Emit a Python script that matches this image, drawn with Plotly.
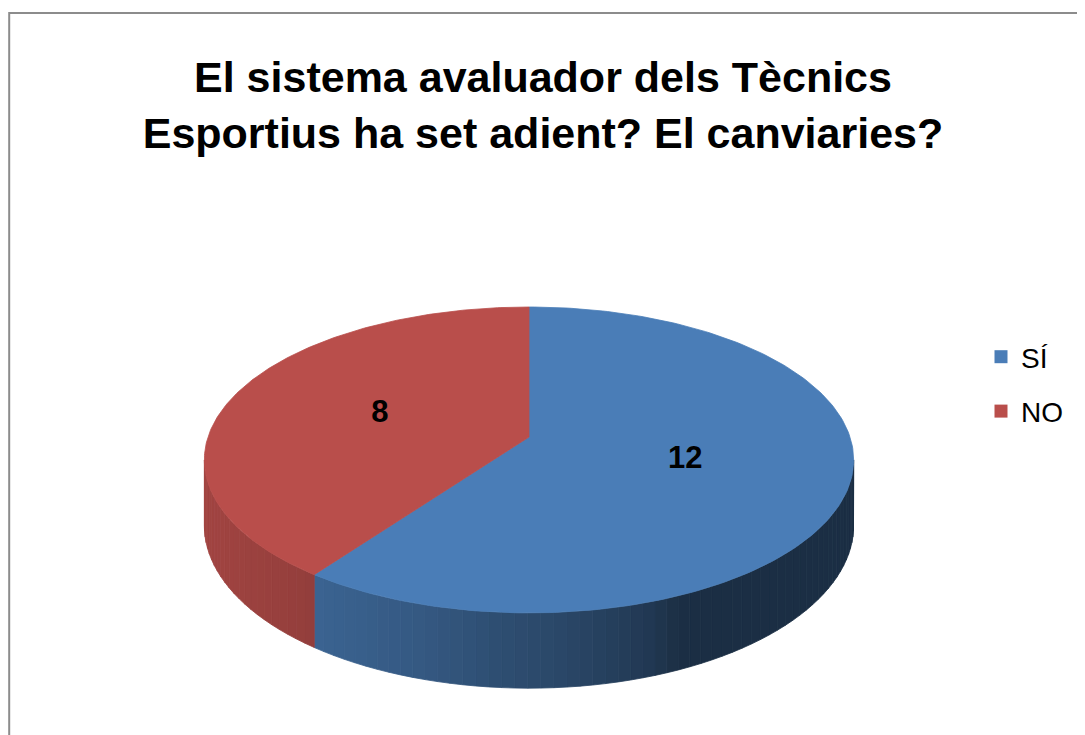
import numpy as np
import plotly.graph_objects as go

# ---- data ----
categories = ["SÍ", "NO"]
values = [12, 8]
top_colors = ["#4A7DB7", "#B94E4B"]
title_lines = ["El sistema avaluador dels Tècnics", "Esportius ha set adient? El canviaries?"]

# ---- geometry / style ----
W, H = 1085, 735
OFF = 8                    # page offset of the plot div (body margin)
CX, CY = 529, 437          # projected pie centre (screen pixels)
RX, RY = 321, 149.5        # radii of the top face
P = 0.15                   # perspective strength
DEPTH = 64                 # thickness of the pie
FONT = "Liberation Sans, Arial, sans-serif"

# side shading (fraction of top colour) as a function of x position
SHADE_X = [205, 320, 420, 500, 560, 650, 680, 900]
SHADE_F = [0.87, 0.79, 0.71, 0.62, 0.57, 0.45, 0.37, 0.37]


def proj(theta_deg, r=1.0, drop=0.0):
    t = np.radians(theta_deg)
    s = 1.0 / (1.0 + P * r * np.cos(t))
    x = CX + RX * r * np.sin(t) * s
    y = CY - RY * r * np.cos(t) * s + drop * s
    return x, y


def hex2rgb(h):
    h = h.lstrip("#")
    return tuple(int(h[i:i + 2], 16) for i in (0, 2, 4))


def shade(hexcol, f):
    r, g, b = hex2rgb(hexcol)
    return "rgb(%d,%d,%d)" % (round(r * f), round(g * f), round(b * f))


total = float(sum(values))
bounds = np.concatenate([[0.0], np.cumsum(values) / total * 360.0])

fig = go.Figure()

# visible range of the side wall (silhouette between widest points)
vis_lo = np.degrees(np.arccos(-P))
vis_hi = 360.0 - vis_lo

# ---- side walls ----
for i, cat in enumerate(categories):
    a0, a1 = bounds[i], bounds[i + 1]
    lo, hi = max(a0, vis_lo), min(a1, vis_hi)
    if hi <= lo:
        continue
    n = max(1, int(np.ceil((hi - lo) / 2.0)))
    edges = np.linspace(lo, hi, n + 1)
    for k in range(n):
        th = np.linspace(edges[k], edges[k + 1], 6)
        xt, yt = proj(th)
        xb, yb = proj(th[::-1], drop=DEPTH)
        xs = np.concatenate([xt, xb, xt[:1]])
        ys = np.concatenate([yt, yb, yt[:1]])
        f = float(np.interp(xt.mean(), SHADE_X, SHADE_F))
        col = shade(top_colors[i], f)
        fig.add_trace(go.Scatter(
            x=xs, y=ys, mode="lines", fill="toself", fillcolor=col,
            line=dict(color=col, width=0.8), hoverinfo="skip", showlegend=False))

# ---- top faces ----
for i, cat in enumerate(categories):
    a0, a1 = bounds[i], bounds[i + 1]
    th = np.linspace(a0, a1, 200)
    xa, ya = proj(th)
    xs = np.concatenate([[CX], xa, [CX]])
    ys = np.concatenate([[CY], ya, [CY]])
    fig.add_trace(go.Scatter(
        x=xs, y=ys, mode="lines", fill="toself", fillcolor=top_colors[i],
        line=dict(color=top_colors[i], width=0.8), hoverinfo="text",
        text="%s: %d" % (cat, values[i]), showlegend=False))

# ---- data labels ----
mids = (bounds[:-1] + bounds[1:]) / 2.0
lx, ly = proj(mids, r=0.5)
fig.add_trace(go.Scatter(
    x=lx, y=ly, mode="text", text=[str(v) for v in values],
    textfont=dict(family=FONT, size=31, color="black", weight="bold"),
    hoverinfo="skip", showlegend=False))

# ---- legend entries ----
for i, cat in enumerate(categories):
    fig.add_trace(go.Scatter(
        x=[None], y=[None], mode="markers", name=cat, legendgroup=cat,
        marker=dict(symbol="square", size=13, color=top_colors[i])))

fig.update_layout(
    width=W, height=H, autosize=False,
    margin=dict(l=0, r=0, t=0, b=0),
    paper_bgcolor="white", plot_bgcolor="white",
    xaxis=dict(range=[OFF, W + OFF], visible=False, fixedrange=True),
    yaxis=dict(range=[H + OFF, OFF], visible=False, fixedrange=True),
    title=dict(
        text="<br>".join(title_lines),
        x=(543 - OFF) / W, xanchor="center", xref="paper",
        y=1 - 84 / H, yanchor="middle", yref="container",
        font=dict(family=FONT, size=43, color="black", weight="bold")),
    legend=dict(
        x=973 / W, xanchor="left", y=1 - 324 / H, yanchor="top",
        font=dict(family=FONT, size=28, color="black"),
        tracegroupgap=15, bgcolor="rgba(0,0,0,0)"),
    shapes=[dict(type="rect", xref="x", yref="y", x0=OFF + 1.2, y0=13, x1=W + 30, y1=H + 30,
                 line=dict(color="#8C8C8C", width=2), fillcolor="rgba(0,0,0,0)",
                 layer="above")],
    showlegend=True,
)

fig.write_html("out.html")
